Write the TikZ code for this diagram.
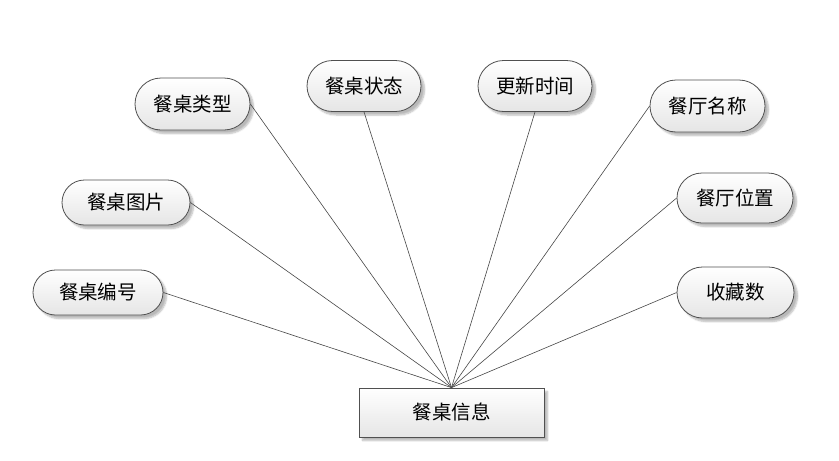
\documentclass[tikz,border=0pt]{standalone}
\usepackage{fontspec}
\newfontfamily\cjk{Noto Sans CJK SC}
\usetikzlibrary{shapes.misc,shadows.blur}
\definecolor{edgeline}{RGB}{70,70,70}
\definecolor{boxline}{RGB}{80,80,80}

\begin{document}
\begin{tikzpicture}[
  x=1pt,y=-1pt,
  base/.style={draw=boxline,line width=0.8pt,inner sep=0pt,
    top color=white,bottom color=black!10,
    blur shadow={shadow xshift=3.5pt,shadow yshift=-3.5pt,shadow blur steps=6,shadow opacity=28},
    font=\cjk\fontsize{19.5}{19.5}\selectfont},
  attr/.style={base,rounded rectangle},
  ent/.style={base,rectangle,minimum width=185pt,minimum height=49pt},
  link/.style={edgeline,line width=0.6pt}
]
\useasboundingbox (0,0) rectangle (839,461);
% ================= entity =================
\node[ent] (info) at (451.5,412.5) {餐桌信息};
% ================= attributes =================
\node[attr,minimum width=115pt,minimum height=52pt] (kind) at (192.5,104) {餐桌类型};
\node[attr,minimum width=114pt,minimum height=51pt] (state) at (364,86) {餐桌状态};
\node[attr,minimum width=114pt,minimum height=51pt] (update) at (535,86) {更新时间};
\node[attr,minimum width=115pt,minimum height=52pt] (rname) at (707.5,106) {餐厅名称};
\node[attr,minimum width=128pt,minimum height=45pt] (pic) at (126,202.5) {餐桌图片};
\node[attr,minimum width=116pt,minimum height=50pt] (place) at (735,198) {餐厅位置};
\node[attr,minimum width=130pt,minimum height=45pt] (num) at (98,292.5) {餐桌编号};
\node[attr,minimum width=117pt,minimum height=51pt] (fav) at (735.5,292.5) {收藏数};
% ================= links =================
\draw[link] (info.north) -- (kind.east);
\draw[link] (info.north) -- (state.south);
\draw[link] (info.north) -- (update.south);
\draw[link] (info.north) -- (rname.west);
\draw[link] (info.north) -- (pic.east);
\draw[link] (info.north) -- (place.west);
\draw[link] (info.north) -- (num.east);
\draw[link] (info.north) -- (fav.west);
\end{tikzpicture}
\end{document}
